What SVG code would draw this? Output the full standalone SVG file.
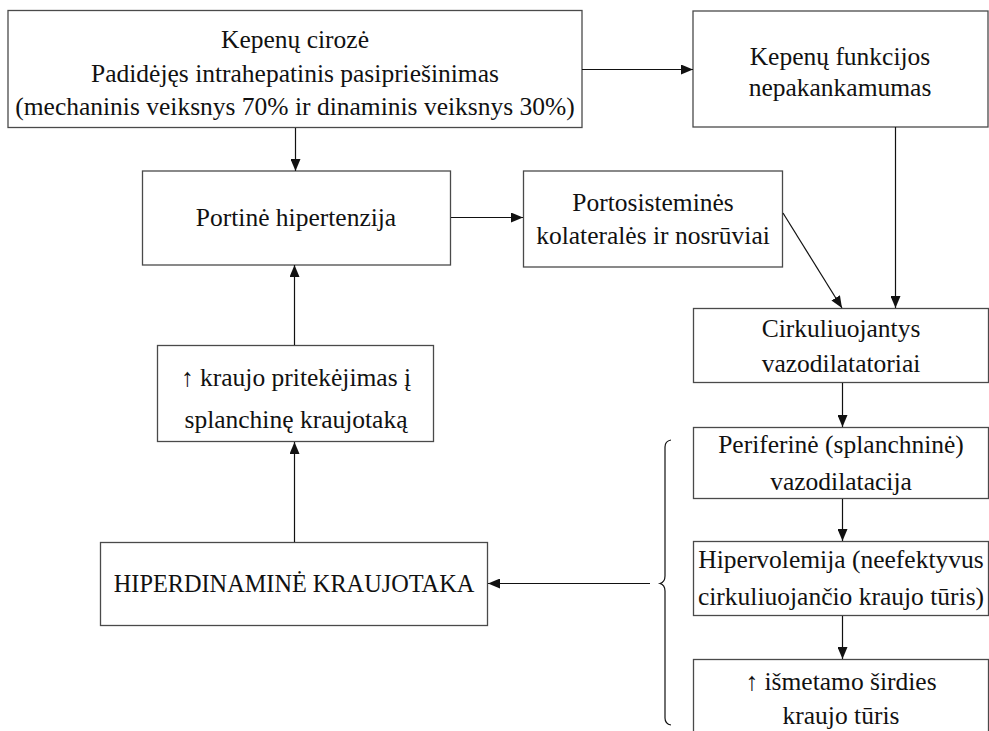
<svg xmlns="http://www.w3.org/2000/svg" width="989" height="731" viewBox="0 0 989 731">
<defs>
<style>
.box{fill:#fff;stroke:#4a4a4a;stroke-width:1.3}
.t{font-family:"Liberation Serif","DejaVu Serif",serif;font-size:25.5px;fill:#111;text-anchor:middle}
.c{fill:none;stroke:#111;stroke-width:1.2}
</style>
<marker id="ah" viewBox="0 0 12 10" refX="12" refY="5" markerWidth="12" markerHeight="10" markerUnits="userSpaceOnUse" orient="auto">
<path d="M0,0 L12,5 L0,10 Z" fill="#111"/>
</marker>
</defs>
<rect width="989" height="731" fill="#fff"/>
<g id="n1"><rect class="box" x="8" y="10.5" width="574" height="117"/>
<text class="t" x="295" y="48">Kepenų cirozė</text>
<text class="t" x="295" y="82">Padidėjęs intrahepatinis pasipriešinimas</text>
<text class="t" x="295" y="115">(mechaninis veiksnys 70% ir dinaminis veiksnys 30%)</text></g>
<g id="n2"><rect class="box" x="693" y="11" width="295" height="116"/>
<text class="t" x="840" y="65">Kepenų funkcijos</text>
<text class="t" x="840" y="96">nepakankamumas</text></g>
<g id="n3"><rect class="box" x="142.5" y="171" width="308" height="94"/>
<text class="t" x="296" y="226">Portinė hipertenzija</text></g>
<g id="n4"><rect class="box" x="523.5" y="171" width="259" height="96"/>
<text class="t" x="653" y="211">Portosisteminės</text>
<text class="t" x="653" y="244">kolateralės ir nosrūviai</text></g>
<g id="n5"><rect class="box" x="693.5" y="308.5" width="295" height="74"/>
<text class="t" x="841" y="337">Cirkuliuojantys</text>
<text class="t" x="841" y="372">vazodilatatoriai</text></g>
<g id="n6"><rect class="box" x="693.5" y="427.5" width="295" height="71"/>
<text class="t" x="841" y="453">Periferinė (splanchninė)</text>
<text class="t" x="841" y="490">vazodilatacija</text></g>
<g id="n7"><rect class="box" x="693.5" y="541.5" width="295" height="74"/>
<text class="t" x="841" y="568">Hipervolemija (neefektyvus</text>
<text class="t" x="841" y="605">cirkuliuojančio kraujo tūris)</text></g>
<g id="n8"><rect class="box" x="693.5" y="659.5" width="295" height="80"/>
<text class="t" x="841" y="690">↑ išmetamo širdies</text>
<text class="t" x="841" y="724">kraujo tūris</text></g>
<g id="n9"><rect class="box" x="100.5" y="542.5" width="387" height="83"/>
<text class="t" x="294" y="592" style="font-size:24.3px">HIPERDINAMINĖ KRAUJOTAKA</text></g>
<g id="n10"><rect class="box" x="157.5" y="345.5" width="276" height="96"/>
<text class="t" x="296" y="386">↑ kraujo pritekėjimas į</text>
<text class="t" x="296" y="428">splanchinę kraujotaką</text></g>
<g id="connectors">
<line class="c" x1="295.5" y1="128" x2="295.5" y2="171" marker-end="url(#ah)"/>
<line class="c" x1="582" y1="69.5" x2="693" y2="69.5" marker-end="url(#ah)"/>
<line class="c" x1="451" y1="217.5" x2="523" y2="217.5" marker-end="url(#ah)"/>
<line class="c" x1="895.5" y1="127" x2="895.5" y2="308" marker-end="url(#ah)"/>
<line class="c" x1="783" y1="213" x2="842" y2="308" marker-end="url(#ah)"/>
<line class="c" x1="842.5" y1="383" x2="842.5" y2="427" marker-end="url(#ah)"/>
<line class="c" x1="842.5" y1="499" x2="842.5" y2="541" marker-end="url(#ah)"/>
<line class="c" x1="842.5" y1="616" x2="842.5" y2="659" marker-end="url(#ah)"/>
<line class="c" x1="650" y1="583.5" x2="488" y2="583.5" marker-end="url(#ah)"/>
<line class="c" x1="294.5" y1="542" x2="294.5" y2="442" marker-end="url(#ah)"/>
<line class="c" x1="294.5" y1="345" x2="294.5" y2="265" marker-end="url(#ah)"/>
<path class="c" d="M671,440 Q665,441 665,447 L665,576 Q665,582 660,583.5 Q665,585 665,591 L665,718 Q665,724 671,725"/>
</g>
</svg>
